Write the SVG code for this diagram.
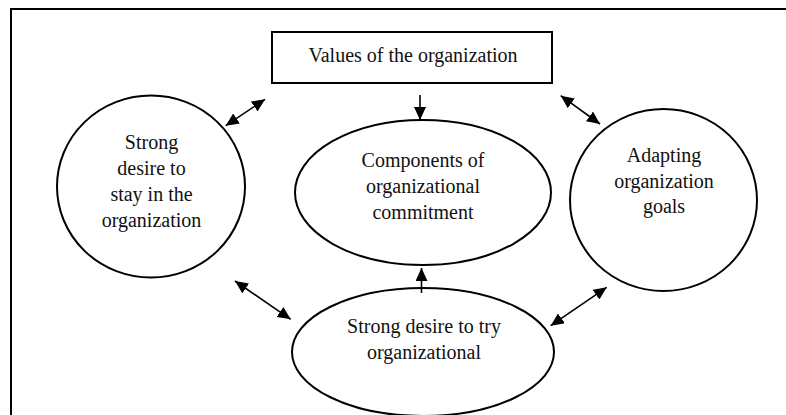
<svg xmlns="http://www.w3.org/2000/svg" width="786" height="415" viewBox="0 0 786 415">
  <style>
    .shape { fill: #fff; stroke: #000; stroke-width: 2; }
    .frame { fill: none; stroke: #000; stroke-width: 2; }
    .label { font-family: "Liberation Serif", "Times New Roman", serif; font-size: 20px; fill: #111; text-anchor: middle; }
    .link { stroke: #000; stroke-width: 1.6; fill: none; }
    .both { marker-start: url(#head); marker-end: url(#head); }
    .one { marker-end: url(#head); }
  </style>
  <defs>
    <marker id="head" markerUnits="userSpaceOnUse" markerWidth="14" markerHeight="12" refX="13" refY="6" orient="auto-start-reverse">
      <path d="M0,0 L13,6 L0,12 Z" fill="#000"/>
    </marker>
  </defs>

  <rect width="786" height="415" fill="#fff"/>
  <!-- outer frame, running past the right and bottom edges -->
  <rect class="frame" x="11" y="9" width="800" height="430"/>

  <g id="values">
    <rect class="shape" x="272" y="32" width="280" height="51"/>
    <text class="label" x="413" y="61.5">Values of the organization</text>
  </g>

  <g id="components">
    <ellipse class="shape" cx="423" cy="192.5" rx="128" ry="72.5"/>
    <text class="label" x="423" y="167">Components of</text>
    <text class="label" x="423" y="193">organizational</text>
    <text class="label" x="423" y="219">commitment</text>
  </g>

  <g id="stay">
    <ellipse class="shape" cx="151" cy="186.5" rx="94" ry="91"/>
    <text class="label" x="151.5" y="149">Strong</text>
    <text class="label" x="151.5" y="175">desire to</text>
    <text class="label" x="151.5" y="201">stay in the</text>
    <text class="label" x="151.5" y="227">organization</text>
  </g>

  <g id="goals">
    <ellipse class="shape" cx="663.5" cy="200" rx="93.5" ry="91"/>
    <text class="label" x="664" y="162">Adapting</text>
    <text class="label" x="664" y="187.5">organization</text>
    <text class="label" x="664" y="213">goals</text>
  </g>

  <g id="try">
    <ellipse class="shape" cx="423" cy="352" rx="131" ry="64"/>
    <text class="label" x="424" y="333">Strong desire to try</text>
    <text class="label" x="424" y="359">organizational</text>
  </g>

  <g id="connectors">
    <line class="link one" x1="420" y1="95" x2="420" y2="120"/>
    <line class="link one" x1="421.5" y1="293" x2="421.5" y2="268"/>
    <line class="link both" x1="225.7" y1="125.7" x2="265" y2="99.3"/>
    <line class="link both" x1="560.7" y1="95.7" x2="600" y2="124"/>
    <line class="link both" x1="235" y1="281" x2="290.7" y2="319.3"/>
    <line class="link both" x1="550.7" y1="325.7" x2="606.7" y2="287.3"/>
  </g>
</svg>
